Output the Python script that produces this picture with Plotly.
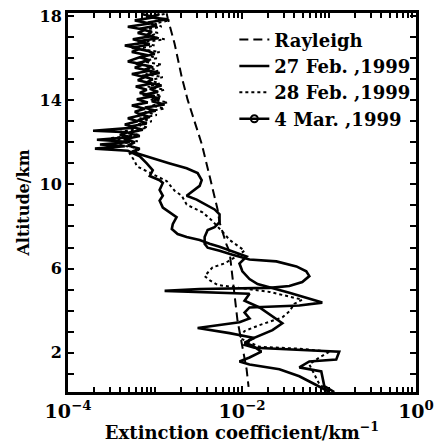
import plotly.graph_objects as go

# ---- data (altitude in km, extinction in km^-1) ----
rayleigh_alt = [18.14, 17.9, 16.69, 15.1, 14.03, 13.24, 11.93, 10.4, 8.81, 8.2, 7.13, 6.8, 6.01, 4.8, 3.54, 2.28, 1.21, 0.37]
rayleigh_ext = [1.36e-3, 1.40e-3, 1.68e-3, 2.03e-3, 2.37e-3, 2.71e-3, 3.44e-3, 4.24e-3, 5.24e-3, 5.52e-3, 6.64e-3, 7.19e-3, 7.58e-3, 8.2e-3, 8.87e-3, 1.01e-2, 1.13e-2, 1.19e-2]

feb27_alt = [18.1, 17.95, 17.85, 17.7, 17.55, 17.4, 17.25, 17.1, 16.95, 16.8, 16.65, 16.5, 16.35, 16.2, 16.05,
             15.9, 15.75, 15.6, 15.45, 15.3, 15.15, 15.0, 14.85, 14.7, 14.55, 14.4, 14.25, 14.1, 13.95, 13.8,
             13.65, 13.5, 13.35, 13.2, 13.05, 12.9, 12.75, 12.6, 12.45, 12.3, 12.15, 12.0, 11.85, 11.7, 11.55,
             11.47, 11.24, 11.0, 10.77, 10.54, 10.2, 9.93, 9.70, 9.46, 9.28, 9.04, 8.81, 8.58,
             8.2, 7.97, 7.83, 7.50, 7.18, 6.99, 6.85, 6.66, 6.43, 6.34, 6.10, 5.87, 5.64, 5.36, 5.17, 5.08,
             5.03, 4.94, 4.85, 4.80, 4.47, 4.15, 3.40, 3.07, 2.61, 2.37, 2.23, 2.05, 1.67, 1.58, 1.30, 1.11,
             0.41, 0.13]
feb27_ext = [1.13e-3, 8.71e-4, 1.40e-3, 8.26e-4, 1.05e-3, 6.68e-4, 9.18e-4, 8.04e-4, 1.08e-3, 6.34e-4, 8.71e-4,
             5.42e-4, 8.26e-4, 9.93e-4, 6.68e-4, 8.71e-4, 6.01e-4, 9.18e-4, 7.64e-4, 1.13e-3, 7.05e-4, 9.42e-4,
             8.04e-4, 1.19e-3, 8.71e-4, 1.08e-3, 7.24e-4, 1.13e-3, 9.18e-4, 1.29e-3, 7.64e-4, 1.02e-3, 6.68e-4,
             8.71e-4, 6.34e-4, 8.04e-4, 5.14e-4, 7.24e-4, 4.87e-4, 6.68e-4, 4.50e-4, 5.86e-4, 4.87e-4, 6.68e-4,
             5.42e-4,
             6.18e-4, 9.42e-4, 1.48e-3, 2.31e-3, 3.09e-3, 3.44e-3, 3.26e-3, 2.71e-3, 2.31e-3, 3.01e-3,
             3.92e-3, 4.84e-3, 5.52e-3, 5.52e-3, 4.84e-3, 4.03e-3, 3.72e-3, 3.72e-3, 4.03e-3, 5.52e-3, 7.78e-3,
             1.22e-2, 2.48e-2, 4.22e-2, 5.48e-2, 5.94e-2, 4.93e-2, 3.50e-2, 2.07e-2, 3.26e-3, 1.29e-3, 7.19e-3,
             1.22e-2, 1.07e-2, 1.59e-2, 2.91e-2, 2.24e-2, 1.22e-2, 1.07e-2, 1.39e-2, 1.31e-1, 1.21e-1, 5.94e-2,
             4.56e-2, 8.15e-2, 8.83e-2, 1.15e-1]

feb28_alt = [18.1, 17.95, 17.8, 17.65, 17.5, 17.35, 17.2, 17.05, 16.9, 16.75, 16.6, 16.45, 16.3, 16.15, 16.0,
             15.85, 15.7, 15.55, 15.4, 15.25, 15.1, 14.95, 14.8, 14.65, 14.5, 14.35, 14.2, 14.05, 13.9, 13.75,
             13.6, 13.45, 13.3, 13.15, 13.0, 12.85, 12.7, 12.5, 12.35, 12.2, 12.05, 11.9, 11.75, 11.6, 11.45,
             11.3, 11.1, 10.86, 10.68, 10.44, 10.16, 9.70, 9.46, 9.04, 8.81, 8.67,
             8.30, 7.92, 7.64, 7.36, 7.13, 6.85, 6.52, 6.24, 6.06, 5.64, 5.45, 5.22, 5.08, 4.89, 4.52, 4.33,
             3.96, 3.68, 3.31, 3.03, 2.70, 2.28, 2.19, 2.05, 1.77, 1.44, 0.97, 0.51, 0.13]
feb28_ext = [1.29e-3, 8.26e-4, 1.48e-3, 9.93e-4, 1.19e-3, 7.64e-4, 1.08e-3, 8.71e-4, 1.29e-3, 7.05e-4, 9.93e-4,
             6.34e-4, 1.13e-3, 8.04e-4, 1.05e-3, 7.24e-4, 1.19e-3, 8.71e-4, 1.08e-3, 7.84e-4, 1.23e-3, 8.71e-4,
             1.13e-3, 8.26e-4, 1.29e-3, 9.18e-4, 1.19e-3, 8.71e-4, 1.40e-3, 9.18e-4, 1.29e-3, 7.64e-4, 1.05e-3,
             6.68e-4, 9.18e-4, 6.18e-4, 8.26e-4, 3.94e-4, 6.68e-4, 3.03e-4, 6.34e-4, 3.46e-4, 5.86e-4, 6.68e-4,
             5.14e-4, 5.42e-4, 5.86e-4,
             6.18e-4, 7.64e-4, 9.93e-4, 1.36e-3, 1.68e-3, 2.03e-3,
             2.31e-3, 3.01e-3, 3.52e-3, 4.47e-3, 5.52e-3, 6.30e-3, 7.19e-3, 8.65e-3, 1.07e-2, 8.20e-3, 6.30e-3,
             4.59e-3, 3.72e-3, 4.24e-3, 5.24e-3, 9.35e-3, 2.07e-2, 4.93e-2, 4.00e-2, 3.50e-2, 2.91e-2, 1.59e-2,
             1.07e-2, 9.35e-3, 1.59e-2, 4.56e-2, 1.01e-1, 7.73e-2, 5.94e-2, 6.78e-2, 7.73e-2, 1.01e-1]

mar4_alt = [18.1, 17.95, 17.8, 17.65, 17.5, 17.35, 17.2, 17.05, 16.9, 16.75, 16.6, 16.45, 16.3, 16.15, 16.0,
            15.85, 15.7, 15.55, 15.4, 15.25, 15.1, 14.95, 14.8, 14.65, 14.5, 14.35, 14.2, 14.05, 13.9, 13.75,
            13.6, 13.45, 13.3, 13.15, 13.0, 12.85, 12.7, 12.55, 12.48, 12.35, 12.25, 12.12, 12.02, 11.9, 11.82,
            11.7, 11.6, 11.45,
            11.33, 11.0, 10.68, 10.4, 10.2, 10.07, 9.74, 9.46, 9.23, 8.90,
            8.67, 8.44, 8.11, 7.88, 7.64, 7.50, 7.36, 7.18, 7.04, 6.80, 6.57, 6.24, 5.87, 5.5, 5.26, 4.85,
            4.38, 4.24, 4.15, 3.91, 3.63, 3.45, 3.17, 2.93, 2.70, 2.47, 2.33, 2.05, 1.77, 1.58, 1.44, 1.21,
            0.88, 0.51, 0.13]
mar4_ext = [7.05e-4, 9.93e-4, 5.86e-4, 8.71e-4, 4.87e-4, 7.64e-4, 6.34e-4, 9.18e-4, 5.56e-4, 7.84e-4, 4.50e-4,
            6.68e-4, 5.42e-4, 8.04e-4, 6.18e-4, 4.87e-4, 7.24e-4, 5.86e-4, 8.71e-4, 5.42e-4, 7.64e-4, 6.34e-4,
            9.18e-4, 6.01e-4, 8.04e-4, 6.68e-4, 9.93e-4, 6.18e-4, 8.26e-4, 5.42e-4, 7.64e-4, 5.86e-4, 7.05e-4,
            4.87e-4, 6.34e-4, 4.50e-4, 5.86e-4, 1.94e-4, 4.87e-4, 3.94e-4, 5.42e-4, 2.15e-4, 5.14e-4, 2.33e-4,
            4.50e-4, 2.04e-4, 4.87e-4, 5.86e-4,
            6.68e-4, 8.04e-4, 9.42e-4, 8.71e-4, 1.13e-3, 1.23e-3, 1.13e-3,
            1.23e-3, 1.13e-3, 1.23e-3, 1.48e-3, 1.77e-3, 1.60e-3, 1.56e-3, 1.82e-3, 2.31e-3, 3.26e-3, 4.24e-3,
            5.52e-3, 7.78e-3, 1.13e-2, 9.35e-3, 1.01e-2, 1.22e-2, 1.51e-2, 3.50e-2, 8.37e-2, 4.56e-2, 1.22e-2,
            1.07e-2, 1.22e-2, 9.35e-3, 3.09e-3, 7.19e-3, 1.39e-2, 1.07e-2, 1.32e-2, 1.67e-2, 1.22e-2, 9.35e-3,
            1.22e-2, 2.69e-2, 4.56e-2, 6.78e-2, 1.01e-1]

x_major = [1e-4, 1e-2, 1e0]
x_major_text = ["<b>10<sup>−4</sup></b>", "<b>10<sup>−2</sup></b>", "<b>10<sup>0</sup></b>"]
y_major = [2, 6, 10, 14, 18]

# ---- figure ----
FONT = "DejaVu Serif"
fig = go.Figure()
fig.add_trace(go.Scatter(x=rayleigh_ext, y=rayleigh_alt, mode="lines", name="<b>Rayleigh</b>",
                         line=dict(color="black", width=2, dash="9px,5px")))
fig.add_trace(go.Scatter(x=feb27_ext, y=feb27_alt, mode="lines", name="<b>27 Feb. ,1999</b>",
                         line=dict(color="black", width=2.6)))
fig.add_trace(go.Scatter(x=feb28_ext, y=feb28_alt, mode="lines", name="<b>28 Feb. ,1999</b>",
                         line=dict(color="black", width=2, dash="dot")))
fig.add_trace(go.Scatter(x=mar4_ext, y=mar4_alt, mode="lines", name="<b>4 Mar. ,1999</b>",
                         line=dict(color="black", width=2.6), showlegend=False, legendgroup="m4"))
fig.add_trace(go.Scatter(x=[None], y=[None], mode="lines+markers", name="<b>4 Mar. ,1999</b>",
                         legendgroup="m4",
                         line=dict(color="black", width=2.6),
                         marker=dict(symbol="circle-open", size=7, color="black", line=dict(width=2))))

# log minor tick positions
x_minor = [m * 10.0 ** d for d in [-4, -3, -2, -1] for m in range(2, 10)] + [1e-3, 1e-1]
y_minor = [v for v in range(1, 19) if v not in y_major]

fig.update_layout(
    width=441, height=443,
    margin=dict(l=68, r=24, t=7, b=50),
    paper_bgcolor="white", plot_bgcolor="white",
    font=dict(family=FONT, color="black"),
    showlegend=True,
    legend=dict(x=0.478, y=0.978, xanchor="left", yanchor="top", bgcolor="rgba(0,0,0,0)",
                font=dict(family=FONT, size=18, color="black"), itemwidth=30, tracegroupgap=0),
)
fig.update_xaxes(type="log", range=[-4, 0], tickmode="array", tickvals=x_major, ticktext=x_major_text,
                 ticks="inside", ticklen=6, tickwidth=1.5, tickcolor="black",
                 minor=dict(tickmode="array", tickvals=x_minor, ticks="inside", ticklen=5,
                            tickwidth=1.5, tickcolor="black", showgrid=False),
                 showline=True, linewidth=3, linecolor="black", mirror="ticks",
                 showgrid=False, zeroline=False,
                 tickfont=dict(family=FONT, size=19, color="black"),
                 title=dict(text="<b>Extinction coefficient/km<sup>−1</sup></b>",
                            font=dict(family=FONT, size=18, color="black"), standoff=2))
fig.update_yaxes(range=[0.13, 18.15], tickmode="array", tickvals=y_major,
                 ticktext=[f"<b>{v}</b>" for v in y_major],
                 ticks="inside", ticklen=6, tickwidth=1.5, tickcolor="black",
                 minor=dict(tickmode="array", tickvals=y_minor, ticks="inside", ticklen=6,
                            tickwidth=1.5, tickcolor="black", showgrid=False),
                 showline=True, linewidth=3, linecolor="black", mirror="ticks",
                 showgrid=False, zeroline=False,
                 tickfont=dict(family=FONT, size=16, color="black"),
                 title=dict(text="<b>Altitude/km</b>", font=dict(family=FONT, size=16, color="black"),
                            standoff=6))

fig.write_html("out.html")
